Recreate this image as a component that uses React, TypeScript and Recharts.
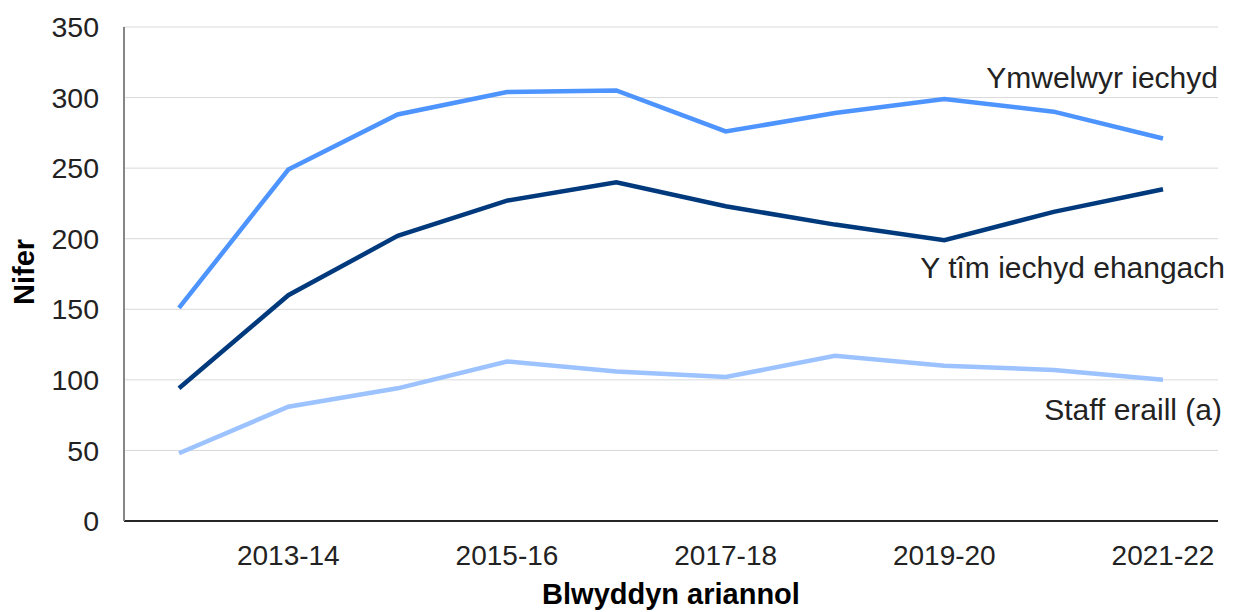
import React from 'react';
import { LineChart, Line, XAxis, YAxis, CartesianGrid, LabelList, Label } from 'recharts';

const years = ['2012-13', '2013-14', '2014-15', '2015-16', '2016-17', '2017-18', '2018-19', '2019-20', '2020-21', '2021-22'];
const shownYears = ['2013-14', '2015-16', '2017-18', '2019-20', '2021-22'];
const yTicks = [0, 50, 100, 150, 200, 250, 300, 350];

const healthVisitors = [151, 249, 288, 304, 305, 276, 289, 299, 290, 271];
const widerTeam = [94, 160, 202, 227, 240, 223, 210, 199, 219, 235];
const otherStaff = [48, 81, 94, 113, 106, 102, 117, 110, 107, 100];

const data = years.map((year, i) => ({
  year,
  visitors: healthVisitors[i],
  wider: widerTeam[i],
  other: otherStaff[i],
}));

const FONT = '"Liberation Sans", Arial, sans-serif';
const TEXT = '#222222';

// series name drawn next to the last point only
const endLabel = (text: string, dx: number, dy: number) => (props: any) => {
  const { x, y, index } = props;
  if (index !== years.length - 1) return null;
  return (
    <text x={x + dx} y={y + dy} textAnchor="end" fontSize={30} fontFamily={FONT} fill={TEXT}>
      {text}
    </text>
  );
};

export default function App() {
  return (
    <div style={{ position: 'absolute', left: 0, top: 0, background: '#fff' }}>
      <LineChart width={1236} height={612} data={data} margin={{ top: 27, right: 18, bottom: 0, left: 0 }}>
        <CartesianGrid vertical={false} stroke="#d9d9d9" strokeWidth={1} />
        <XAxis
          dataKey="year"
          ticks={shownYears}
          height={91}
          padding={{ left: 55, right: 55 }}
          tickLine={false}
          tickSize={0}
          tickMargin={24}
          axisLine={{ stroke: '#262626', strokeWidth: 2 }}
          tick={{ fontSize: 28, fontFamily: FONT, fill: TEXT }}
        >
          <Label
            content={() => (
              <text x={671} y={604} textAnchor="middle" fontSize={29} fontWeight="bold" fontFamily={FONT} fill="#000">
                Blwyddyn ariannol
              </text>
            )}
          />
        </XAxis>
        <YAxis
          domain={[0, 350]}
          ticks={yTicks}
          width={124}
          tickLine={false}
          tickSize={0}
          tickMargin={25}
          axisLine={{ stroke: '#868686', strokeWidth: 2 }}
          tick={{ fontSize: 28.5, fontFamily: FONT, fill: TEXT }}
        >
          <Label
            content={() => (
              <text
                x={24}
                y={272}
                transform="rotate(-90 24 272)"
                textAnchor="middle"
                dominantBaseline="central"
                fontSize={29}
                fontWeight="bold"
                fontFamily={FONT}
                fill="#000"
              >
                Nifer
              </text>
            )}
          />
        </YAxis>
        <Line dataKey="other" stroke="#9cc3ff" strokeWidth={4.5} dot={false} isAnimationActive={false}>
          <LabelList dataKey="other" content={endLabel('Staff eraill (a)', 59, 40)} />
        </Line>
        <Line dataKey="visitors" stroke="#4d94ff" strokeWidth={4.5} dot={false} isAnimationActive={false}>
          <LabelList dataKey="visitors" content={endLabel('Ymwelwyr iechyd', 55, -51)} />
        </Line>
        <Line dataKey="wider" stroke="#003a7d" strokeWidth={4.5} dot={false} isAnimationActive={false}>
          <LabelList dataKey="wider" content={endLabel('Y tîm iechyd ehangach', 62, 89)} />
        </Line>
      </LineChart>
    </div>
  );
}
